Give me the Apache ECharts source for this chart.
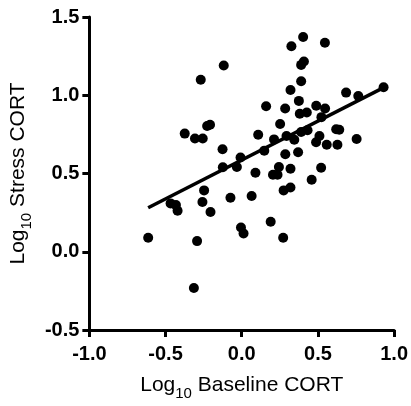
<!DOCTYPE html>
<html>
<head>
<meta charset="utf-8">
<script src="https://cdn.jsdelivr.net/npm/echarts@6/dist/echarts.min.js"></script>
<style>html,body{margin:0;padding:0;background:#fff}#c{width:411px;height:406px}</style>
</head>
<body>
<div id="c"></div>
<script>
// Data
var baselineX = [-0.614,-0.293,-0.314,-0.467,-0.432,-0.421,-0.247,-0.258,-0.205,-0.374,-0.307,-0.256,-0.227,-0.208,-0.269,-0.118,-0.126,-0.124,-0.074,-0.032,-0.008,-0.005,0.012,0.065,0.090,0.108,0.160,0.148,0.190,0.205,0.235,0.212,0.252,0.244,0.272,0.275,0.320,0.285,0.286,0.294,0.320,0.320,0.326,0.345,0.370,0.375,0.390,0.381,0.427,0.403,0.390,0.408,0.390,0.432,0.459,0.489,0.488,0.510,0.521,0.546,0.547,0.523,0.558,0.620,0.640,0.628,0.685,0.754,0.765,0.931];
var stressY = [0.090,0.068,-0.232,0.309,0.298,0.262,0.392,0.318,0.254,0.755,0.724,0.724,0.804,0.812,1.099,1.190,0.655,0.540,0.345,0.542,0.602,0.155,0.117,0.356,0.505,0.748,0.930,0.646,0.192,0.492,0.492,0.718,0.816,0.542,0.090,0.392,0.410,0.915,0.623,0.740,0.530,1.033,1.313,0.716,0.636,0.964,1.090,0.882,0.890,1.372,1.194,1.216,0.765,0.776,0.460,0.933,0.700,0.740,0.537,1.336,0.915,0.860,0.684,0.783,0.779,0.684,1.017,0.721,0.995,1.051];
var xTicks = [-1.0,-0.5,0.0,0.5,1.0];
var yTicks = [-0.5,0.0,0.5,1.0,1.5];
var fitSlope = 0.497;
var fitIntercept = 0.586;

var pts = baselineX.map(function(x,i){return [x, stressY[i]];});
var xmin = Math.min.apply(null, baselineX), xmax = Math.max.apply(null, baselineX);
var fitLine = [[xmin, fitIntercept + fitSlope*xmin],[xmax, fitIntercept + fitSlope*xmax]];

var FONT = '"Liberation Sans", Arial, Helvetica, sans-serif';
var rich = {
  m: {fontSize: 21, fontFamily: FONT, color: '#000', padding: [0,0,5,0], verticalAlign: 'bottom'},
  s: {fontSize: 15, fontFamily: FONT, color: '#000', verticalAlign: 'bottom'}
};
var chart = echarts.init(document.getElementById('c'), null, {renderer: 'canvas'});
chart.setOption({
  animation: false,
  backgroundColor: '#fff',
  grid: {left: 78, right: 16, top: 17, bottom: 75, containLabel: false},
  xAxis: {
    type: 'value', min: xTicks[0], max: xTicks[xTicks.length-1], interval: 0.5,
    name: '{m|Log}{s|10}{m| Baseline CORT}', nameLocation: 'middle', nameGap: 45,
    nameTextStyle: {rich: rich},
    axisLine: {onZero: false, lineStyle: {color: '#000', width: 3}},
    axisTick: {show: true, length: 7, lineStyle: {color: '#000', width: 3}},
    axisLabel: {color: '#000', fontSize: 20, fontWeight: 'bold', fontFamily: FONT, margin: 14,
      formatter: function(v){return v.toFixed(1);}},
    splitLine: {show: false}
  },
  yAxis: {
    type: 'value', min: yTicks[0], max: yTicks[yTicks.length-1], interval: 0.5,
    name: '{m|Log}{s|10}{m| Stress CORT}', nameLocation: 'middle', nameGap: 50, nameRotate: 90,
    nameTextStyle: {rich: rich},
    axisLine: {onZero: false, lineStyle: {color: '#000', width: 3}},
    axisTick: {show: true, length: 7, lineStyle: {color: '#000', width: 3}},
    axisLabel: {color: '#000', fontSize: 20, fontWeight: 'bold', fontFamily: FONT, margin: 10,
      formatter: function(v){return v.toFixed(1);}},
    splitLine: {show: false}
  },
  series: [
    {type: 'scatter', data: pts, symbol: 'circle', symbolSize: 10,
     itemStyle: {color: '#000', opacity: 1}, z: 3},
    {type: 'line', data: fitLine, symbol: 'none', showSymbol: false,
     lineStyle: {color: '#000', width: 3.5}, z: 4}
  ]
});
</script>
</body>
</html>
